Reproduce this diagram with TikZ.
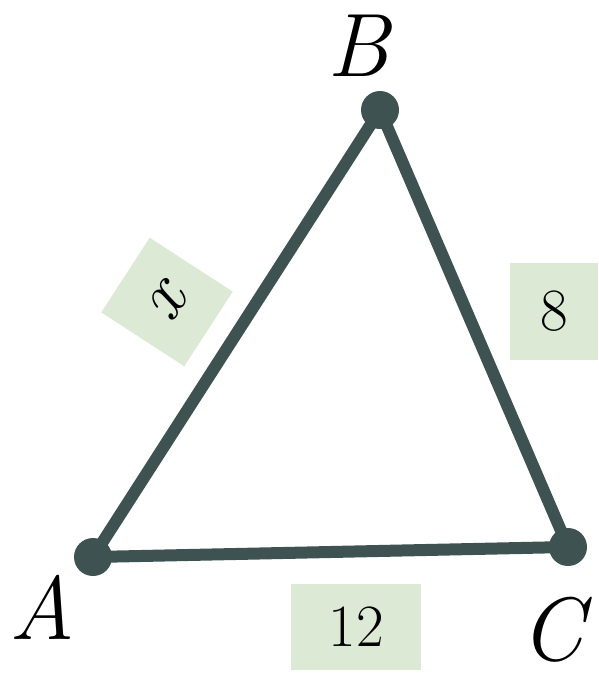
\documentclass[tikz,border=0pt]{standalone}
\usepackage{fontspec}
\usepackage{tikz}
\usetikzlibrary{positioning, calc}
\definecolor{edgedraw}{HTML}{3E5252}
\definecolor{tagfill}{HTML}{DCE9D4}
\tikzset{
  side/.style={draw=edgedraw, line width=12pt, line join=round},
  vtx/.style={circle, fill=edgedraw, minimum size=38pt, inner sep=0pt},
  vlab/.style={font=\fontsize{90}{96}\selectfont\itshape, inner sep=0pt},
  tag/.style={rectangle, fill=tagfill, inner sep=0pt, font=\fontsize{60}{66}\selectfont},
}
\begin{document}
\begin{tikzpicture}[x=1pt, y=-1pt]
  \useasboundingbox (0,0) rectangle (598,681);
  \coordinate (A) at (93,557);
  \coordinate (B) at (380,110);
  \coordinate (C) at (568,547);
  \draw[side] (A) -- (B) -- (C) -- cycle;
  \node[vtx] (vA) at (A) {};
  \node[vtx] (vB) at (B) {};
  \node[vtx] (vC) at (C) {};
  % vertex names
  \node[vlab] (labA) at (42,607) {A};
  \node[vlab] (labB) at (358,46) {B};
  \node[vlab] (labC) at (552,630) {C};
  % side lengths
  \node[tag, rotate=57, minimum width=89pt, minimum height=99pt] (tagx) at (167,302) {\fontsize{72}{78}\selectfont\itshape x};
  \node[tag, minimum width=88pt, minimum height=97pt] (tag8) at (554,311.5) {8};
  \node[tag, minimum width=130pt, minimum height=86pt] (tag12) at (356,627) {12};
\end{tikzpicture}
\end{document}
